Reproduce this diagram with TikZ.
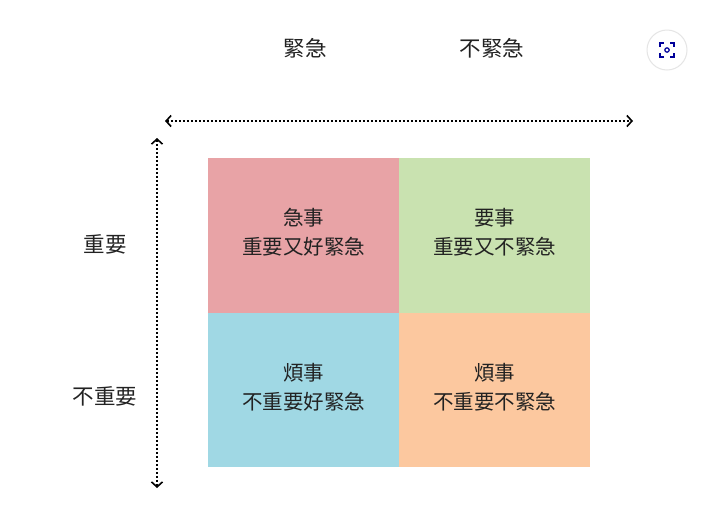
\documentclass[tikz,border=0pt]{standalone}
\usepackage{fontspec}
\setmainfont{Noto Sans CJK TC}
\usetikzlibrary{arrows.meta}
\definecolor{qred}{HTML}{E8A3A6}
\definecolor{qgreen}{HTML}{C9E2B0}
\definecolor{qblue}{HTML}{A0D8E4}
\definecolor{qorange}{HTML}{FCC89F}
\definecolor{txt}{HTML}{222222}
\begin{document}
\begin{tikzpicture}[x=1pt,y=-1pt,
  quad/.style={minimum width=191pt,minimum height=154.5pt,inner sep=0pt,align=center,text=txt,font=\fontsize{20.5}{29}\selectfont},
  qtext/.style={text=txt,align=center,font=\fontsize{20.5}{29}\selectfont},
  lab/.style={text=txt,font=\fontsize{21.5}{26}\selectfont},
  axis/.style={dotted,line width=2pt,{Straight Barb[length=5pt,width=11pt,line width=1.6pt]}-{Straight Barb[length=5pt,width=11pt,line width=1.6pt]}}]
\useasboundingbox[fill=white] (0,0) rectangle (720,515);
\node[quad,fill=qred,anchor=north west] (a) at (208,158) {};
\node[quad,fill=qgreen,anchor=north west] (b) at (399,158) {};
\node[quad,fill=qblue,anchor=north west] (c) at (208,312.5) {};
\node[quad,fill=qorange,anchor=north west] (d) at (399,312.5) {};
\node[qtext] (at) at ([yshift=3pt]a.center) {急事\\重要又好緊急};
\node[qtext] (bt) at ([yshift=3pt]b.center) {要事\\重要又不緊急};
\node[qtext] (ct) at ([yshift=3pt]c.center) {煩事\\不重要好緊急};
\node[qtext] (dt) at ([yshift=3pt]d.center) {煩事\\不重要不緊急};
\node[lab] (t1) at (305,48) {緊急};
\node[lab] (t2) at (492,48) {不緊急};
\node[lab] (l1) at (105,244) {重要};
\node[lab] (l2) at (105,396) {不重要};
\coordinate (hl) at (165,121); \coordinate (hr) at (633,121);
\coordinate (vt) at (157,138); \coordinate (vb) at (157,488);
\draw[axis] (hl) -- (hr);
\draw[axis] (vt) -- (vb);
\node[circle,draw=gray!20,line width=1pt,fill=white,minimum size=40pt] (ic) at (667,50) {};
\draw[blue!60!black,line width=1.2pt] ([shift={(-7,-3)}]ic.center) -- ++(0,-4) -- ++(4,0)
  ([shift={(3,-7)}]ic.center) -- ++(4,0) -- ++(0,4)
  ([shift={(7,3)}]ic.center) -- ++(0,4) -- ++(-4,0)
  ([shift={(-3,7)}]ic.center) -- ++(-4,0) -- ++(0,-4);
\draw[blue!60!black,line width=1.2pt] (ic.center) circle (2.2pt);
\end{tikzpicture}
\end{document}
